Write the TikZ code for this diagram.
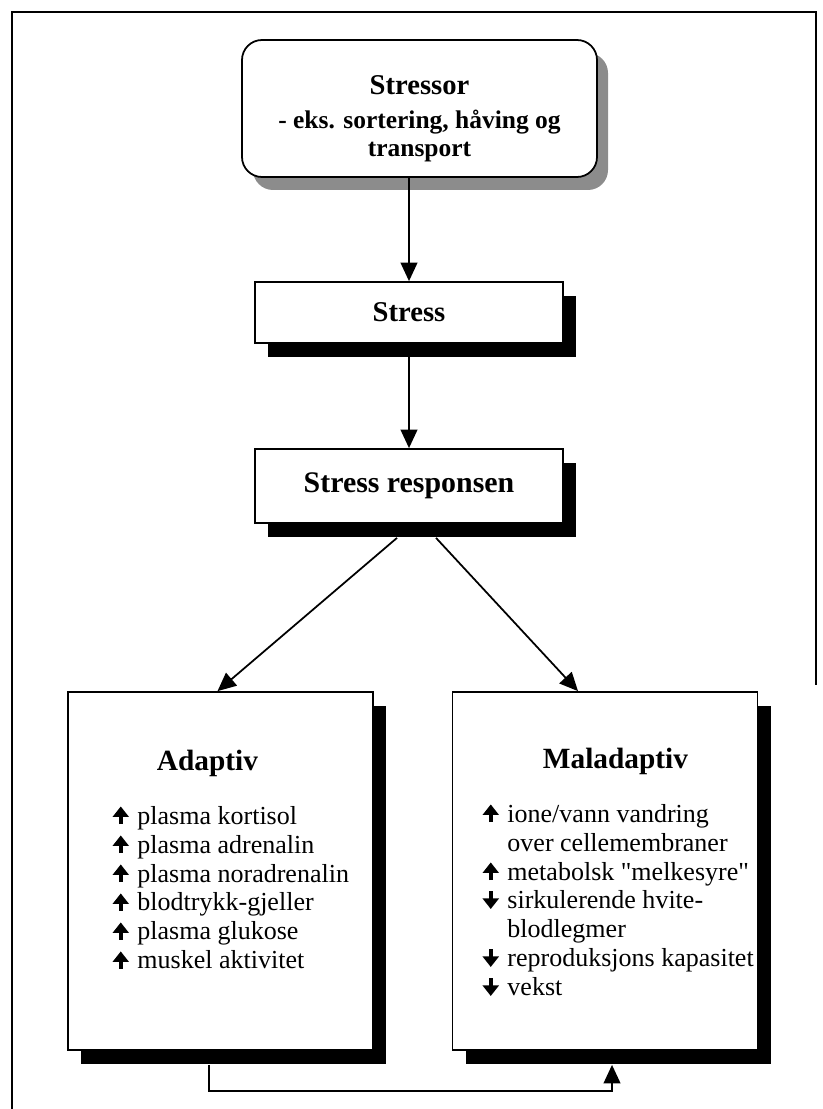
\documentclass[tikz,border=0pt]{standalone}
\usepackage{fontspec}
\setmainfont{Liberation Serif}[Ligatures=TeXOff]
\usetikzlibrary{arrows.meta,positioning,shadows}
\newcommand{\upar}{\tikz[baseline=0pt]\draw[line width=2.1pt, -{Triangle[width=9pt,length=6pt]}] (0,0pt) -- (0,10pt);}
\newcommand{\downar}{\tikz[baseline=0pt]\draw[line width=2.1pt, -{Triangle[width=9pt,length=6pt]}] (0,10pt) -- (0,0pt);}

\begin{document}
\begin{tikzpicture}[
    node distance = 0.5cm,
    box/.style={rectangle, draw, line width=1pt, fill=white, text centered, font=\bfseries,
        drop shadow={shadow xshift=0.26cm, shadow yshift=-0.28cm, fill=black, opacity=1}},
    roundbox/.style={rectangle, rounded corners=0.4cm, draw, line width=1pt, fill=white,
        drop shadow={shadow xshift=0.22cm, shadow yshift=-0.26cm, fill=black!45, opacity=1}},
    title/.style={font=\fontsize{16.7}{20}\selectfont\bfseries, inner sep=0pt},
    list/.style={font=\fontsize{14.8}{16.5}\selectfont, inner sep=0pt},
    connection/.style={draw, line width=1pt, -{Triangle[width=9.5pt,length=10.5pt]}},
    frame/.style={draw, line width=0.8pt}
]
\useasboundingbox (0,0) rectangle (16.44,-22.18);

% Frame
\draw[frame] (0.24,-22.18) -- (0.24,-0.24) -- (16.32,-0.24) -- (16.32,-13.7);

% Top chain
\node[roundbox, minimum width=7.1cm, minimum height=2.74cm, align=center,
      font=\fontsize{14.5}{16}\selectfont\bfseries] (stressor) at (8.39,-2.17)
      {{\fontsize{16.3}{19.3}\selectfont\rule{0pt}{22pt}Stressor}\\[3.3pt] - eks. sortering, håving og\\ transport};
\node[box, minimum width=6.16cm, minimum height=1.22cm, font=\fontsize{16.3}{19}\selectfont\bfseries]
      (stress) at (8.18,-6.25) {Stress};
\node[box, minimum width=6.16cm, minimum height=1.48cm, font=\fontsize{17}{20}\selectfont\bfseries]
      (resp) at (8.18,-9.72) {Stress responsen};

% Result boxes
\node[box, minimum width=6.1cm, minimum height=7.16cm] (adapt) at (4.41,-17.42) {};
\node[box, minimum width=6.1cm, minimum height=7.16cm] (malad) at (12.1,-17.42) {};

\node[title, anchor=base] (adapttitle) at (4.15,-15.4) {Adaptiv};
\node[title, anchor=base] (maladtitle) at (12.31,-15.36) {Maladaptiv};

\node[list, anchor=base west] (adaptlist) at (2.25,-16.48) {%
    \begin{tabular}[t]{@{}l@{\hspace{5pt}}l@{}}
    \upar & plasma kortisol\\
    \upar & plasma adrenalin\\
    \upar & plasma noradrenalin\\
    \upar & blodtrykk-gjeller\\
    \upar & plasma glukose\\
    \upar & muskel aktivitet
    \end{tabular}};
\node[list, anchor=base west] (maladlist) at (9.65,-16.44) {%
    \begin{tabular}[t]{@{}l@{\hspace{5pt}}l@{}}
    \upar & ione/vann vandring\\
          & over cellemembraner\\
    \upar & metabolsk "melkesyre"\\
    \downar & sirkulerende hvite-\\
          & blodlegmer\\
    \downar & reproduksjons kapasitet\\
    \downar & vekst
    \end{tabular}};

% Connections
\path[connection] (stress.north |- stressor.south) -- (stress.north);
\path[connection] (stress.south) -- (resp.north);
\path[connection] ([xshift=-0.24cm, yshift=-0.28cm]resp.south) -- ([xshift=-0.06cm]adapt.north);
\path[connection] ([xshift=0.54cm, yshift=-0.28cm]resp.south) -- ([xshift=-0.54cm]malad.north);
\path[connection] ([xshift=-0.23cm, yshift=-0.28cm]adapt.south) -- ++(0,-0.52)
    -| ([xshift=0.14cm, yshift=-0.28cm]malad.south);
\end{tikzpicture}
\end{document}
